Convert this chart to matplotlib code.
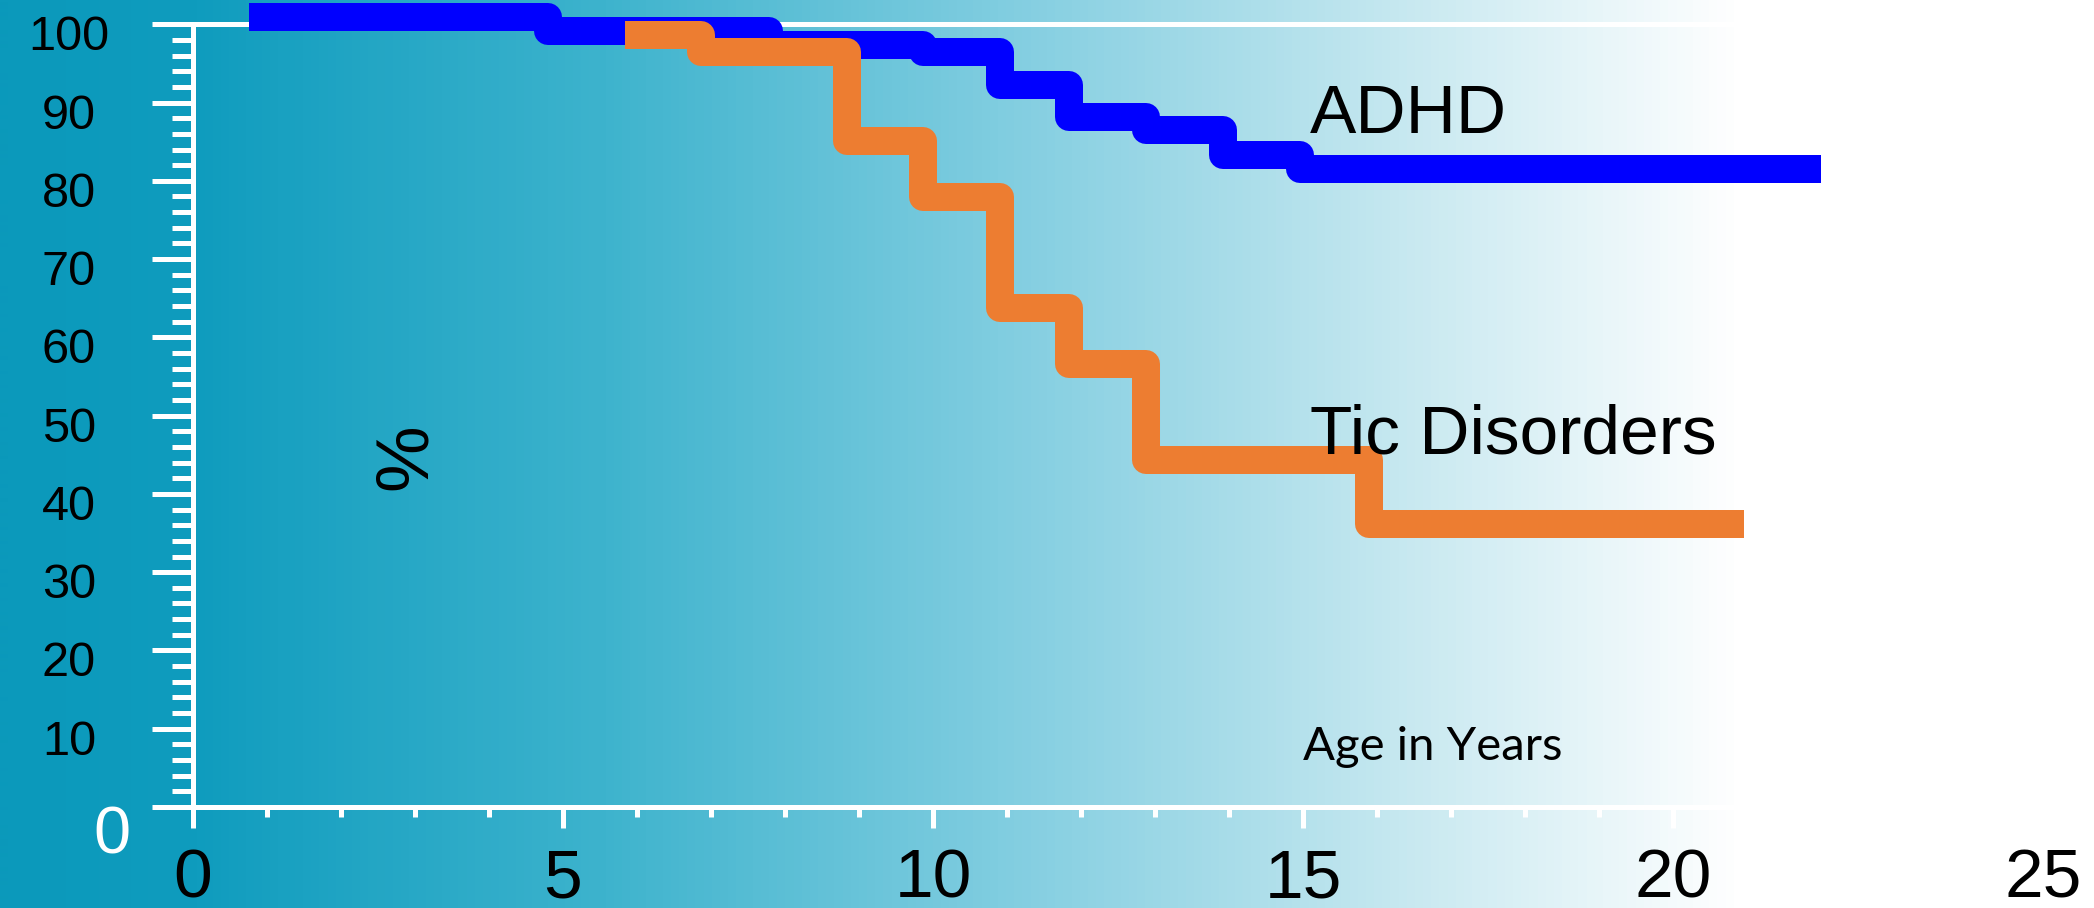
import numpy as np
import matplotlib
matplotlib.use('Agg')
import matplotlib.pyplot as plt
from matplotlib.colors import LinearSegmentedColormap
from matplotlib.transforms import ScaledTranslation

# ---------------- data ----------------
adhd_age = [0.76, 4.80, 7.78, 9.86, 10.90, 11.84, 12.88, 13.92, 14.96, 22.0]
adhd_pct = [100.9, 99.1, 97.3, 96.4, 92.3, 88.2, 86.5, 83.3, 81.5, 81.5]
tic_age = [5.84, 6.86, 8.84, 9.86, 10.90, 11.84, 12.88, 15.89, 20.96]
tic_pct = [98.6, 96.4, 85.1, 77.9, 63.8, 56.6, 44.3, 36.2, 36.2]
x_ticks = [0, 5, 10, 15, 20, 25]
x_labels = ['0', '5', '10', '15', '20', '25']
y_ticks = [0, 10, 20, 30, 40, 50, 60, 70, 80, 90, 100]
y_labels = ['0', '10', '20', '30', '40', '50', '60', '70', '80', '90', '100']
series_names = ['ADHD', 'Tic Disorders']
x_title = 'Age in Years'
y_title = '%'

plt.rcParams['font.family'] = ['Liberation Sans', 'DejaVu Sans']

W, H = 2094, 908
fig = plt.figure(figsize=(W / 100, H / 100), dpi=100)

# background gradient
bg = fig.add_axes([0, 0, 1, 1], zorder=0)
stops = [(0.0, '#0b99bb'), (190 / W, '#0f9cbe'), (600 / W, '#3db3cd'),
         (1000 / W, '#80cde0'), (1400 / W, '#c6e8f0'), (1740 / W, '#ffffff'),
         (1.0, '#ffffff')]
cmap = LinearSegmentedColormap.from_list('bg', stops)
grad = np.linspace(0, 1, W)[None, :]
bg.imshow(grad, cmap=cmap, aspect='auto', extent=[0, 1, 0, 1], interpolation='bilinear')
bg.set_xlim(0, 1)
bg.set_ylim(0, 1)
bg.axis('off')

# main axes
xscale = 74.0  # px per year
xmax = 25.6
ax = fig.add_axes([193 / W, 101 / H, xscale * xmax / W, 782.7 / H], zorder=1)
ax.set_facecolor('none')
ax.set_xlim(0, xmax)
ax.set_ylim(0, 100)

lw_line = 28 * 0.72
ax.step(adhd_age, adhd_pct, where='post', color='#0000ff', lw=lw_line,
        solid_joinstyle='round', solid_capstyle='butt', clip_on=False, zorder=3)
ax.step(tic_age, tic_pct, where='post', color='#ed7d31', lw=lw_line,
        solid_joinstyle='round', solid_capstyle='butt', clip_on=False, zorder=4)

# ticks
ax.set_xticks(x_ticks, x_labels)
ax.set_xticks([v for v in range(1, 20) if v % 5], minor=True)
ax.set_yticks(y_ticks, y_labels)
ax.set_yticks([v for v in range(2, 100, 2) if v % 10], minor=True)

sw = 5 * 0.72
ax.tick_params(axis='y', which='major', direction='out', length=41 * 0.72, width=sw,
               color='white', labelsize=35, pad=83 * 0.72, labelcolor='black')
ax.tick_params(axis='y', which='minor', direction='out', length=21 * 0.72, width=sw,
               color='white')
ax.tick_params(axis='x', which='major', direction='out', length=21 * 0.72, width=sw,
               color='white', labelsize=50, pad=20 * 0.72, labelcolor='black')
ax.tick_params(axis='x', which='minor', direction='out', length=10 * 0.72, width=sw,
               color='white')

ax.xaxis.get_major_ticks()[-1].tick1line.set_visible(False)

for i, t in enumerate(ax.yaxis.get_major_ticks()):
    lab = t.label1
    lab.set_horizontalalignment('center')
    lab.set_verticalalignment('center_baseline')
    if i == 0:
        lab.set_color('white')
        lab.set_fontsize(48)
        off = ScaledTranslation(42.5 / 100, -22.5 / 100, fig.dpi_scale_trans)
    else:
        off = ScaledTranslation(0, -8.5 / 100, fig.dpi_scale_trans)
    lab.set_transform(lab.get_transform() + off)

# spines
for s in ['left', 'bottom', 'top']:
    ax.spines[s].set_color('white')
    ax.spines[s].set_linewidth(sw)
ax.spines['right'].set_visible(False)
ax.spines['left'].set_bounds(0, 100)
ax.spines['bottom'].set_bounds(0, 20.97)
ax.spines['top'].set_bounds(0, 20.97)

# texts
ax.text(15.09, 86.1, series_names[0], fontsize=50, ha='left', va='baseline', color='black', zorder=5)
ax.text(15.10, 45.2, series_names[1], fontsize=50, ha='left', va='baseline', color='black', zorder=5)
ax.text(15.0, 6.0, x_title, fontsize=34, ha='left', va='baseline', color='black',
        family=['Lato', 'DejaVu Sans'], zorder=5)
ax.text(2.89, 44.7, y_title, fontsize=54, ha='center', va='center', rotation=90, color='black', zorder=5)

fig.savefig('out.png', dpi=100)
